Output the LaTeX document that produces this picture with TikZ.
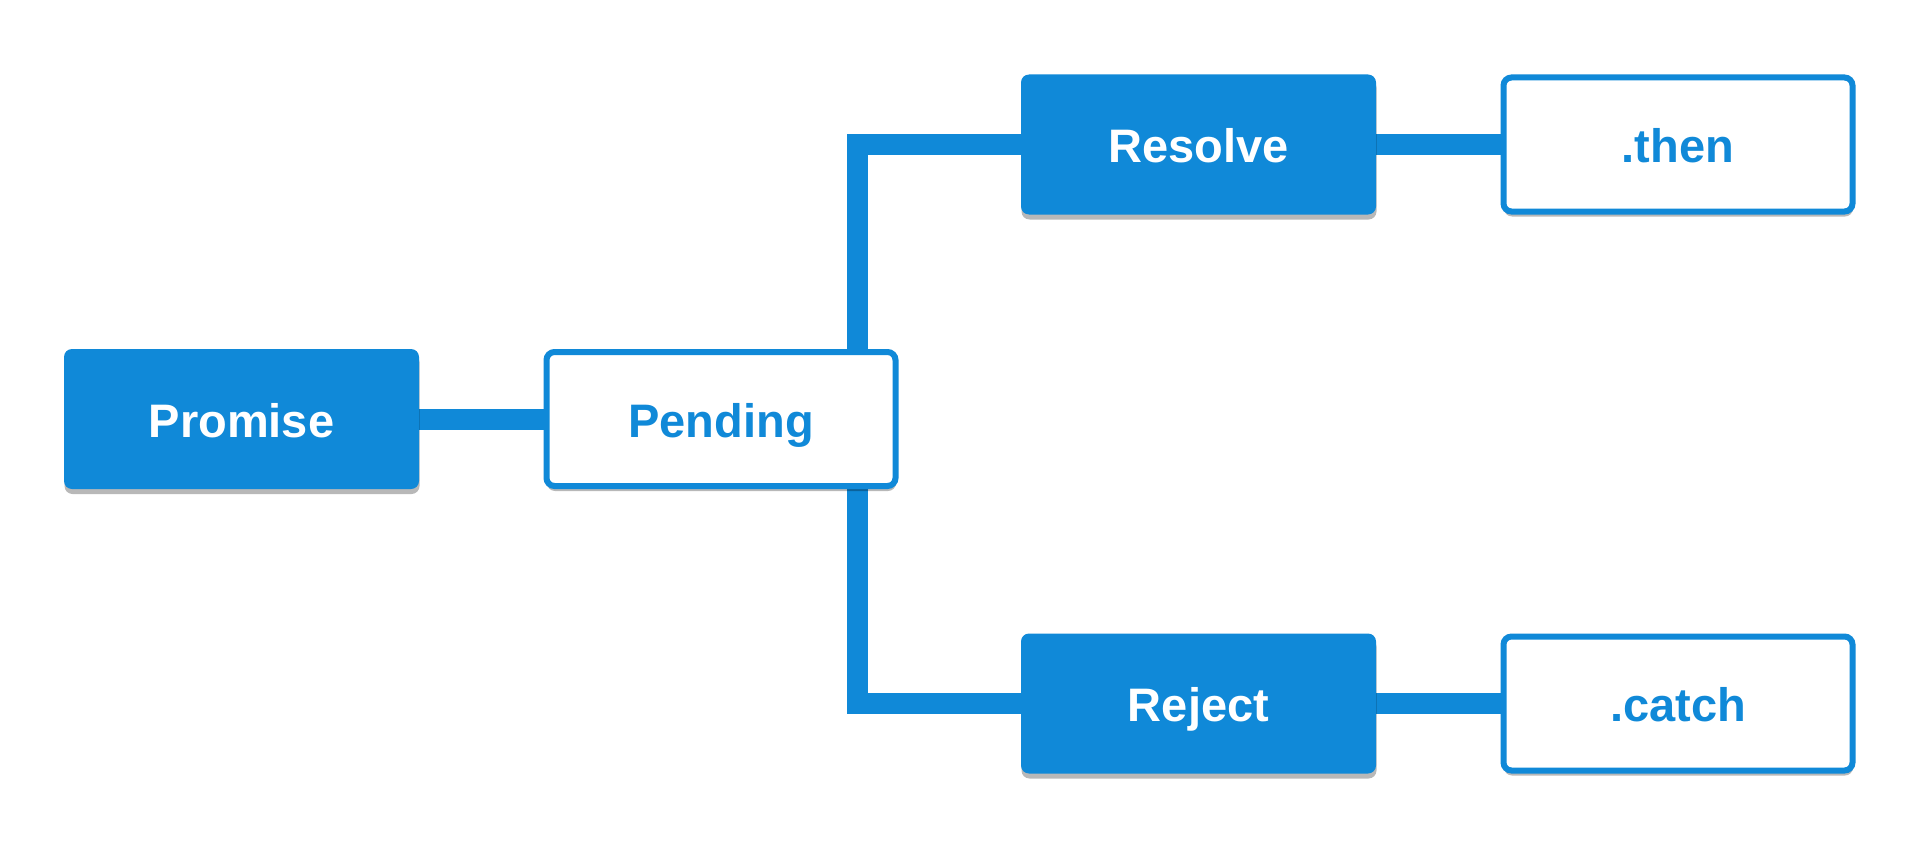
\documentclass[tikz,border=0pt]{standalone}
\usepackage{fontspec}
\setmainfont{Liberation Sans}
\usetikzlibrary{shadows}
\definecolor{pblue}{RGB}{16,137,216}
\tikzset{
  boxbase/.style={rounded corners=8pt, inner sep=0pt, font=\fontsize{47}{50}\selectfont\bfseries,
    text height=36pt, text depth=0pt,
    drop shadow={shadow xshift=0.5pt, shadow yshift=-5pt, fill=black, opacity=0.28}},
  solidbox/.style={boxbase, fill=pblue, text=white, minimum width=355pt, minimum height=140pt},
  outlinebox/.style={boxbase, fill=white, draw=pblue, line width=6pt, text=pblue,
    minimum width=349pt, minimum height=134pt},
  conn/.style={draw=pblue, line width=21pt, line join=miter}
}
\begin{document}
\begin{tikzpicture}[x=1pt,y=-1pt]
\useasboundingbox (0,0) rectangle (1920,859);
\fill[white] (0,0) rectangle (1920,859);
\coordinate (vx) at (857.5,0);
% connectors (behind boxes)
\path (241.5,419) coordinate (promC) (721,419) coordinate (pendC)
      (1198.5,144.5) coordinate (resC) (1678,144.5) coordinate (thenC)
      (1198.5,703.5) coordinate (rejC) (1678,703.5) coordinate (catC);
\path[conn] (promC) -- (pendC);
\path[conn] (pendC -| vx) |- (resC);
\path[conn] (pendC -| vx) |- (rejC);
\path[conn] (resC) -- (thenC);
\path[conn] (rejC) -- (catC);
% boxes
\node[solidbox] (prom) at (promC) {Promise};
\node[outlinebox] (pend) at (pendC) {Pending};
\node[solidbox] (res) at (resC) {Resolve};
\node[outlinebox] (then) at (thenC) {.then};
\node[solidbox] (rej) at (rejC) {Reject};
\node[outlinebox] (cat) at (catC) {.catch};
\end{tikzpicture}
\end{document}
